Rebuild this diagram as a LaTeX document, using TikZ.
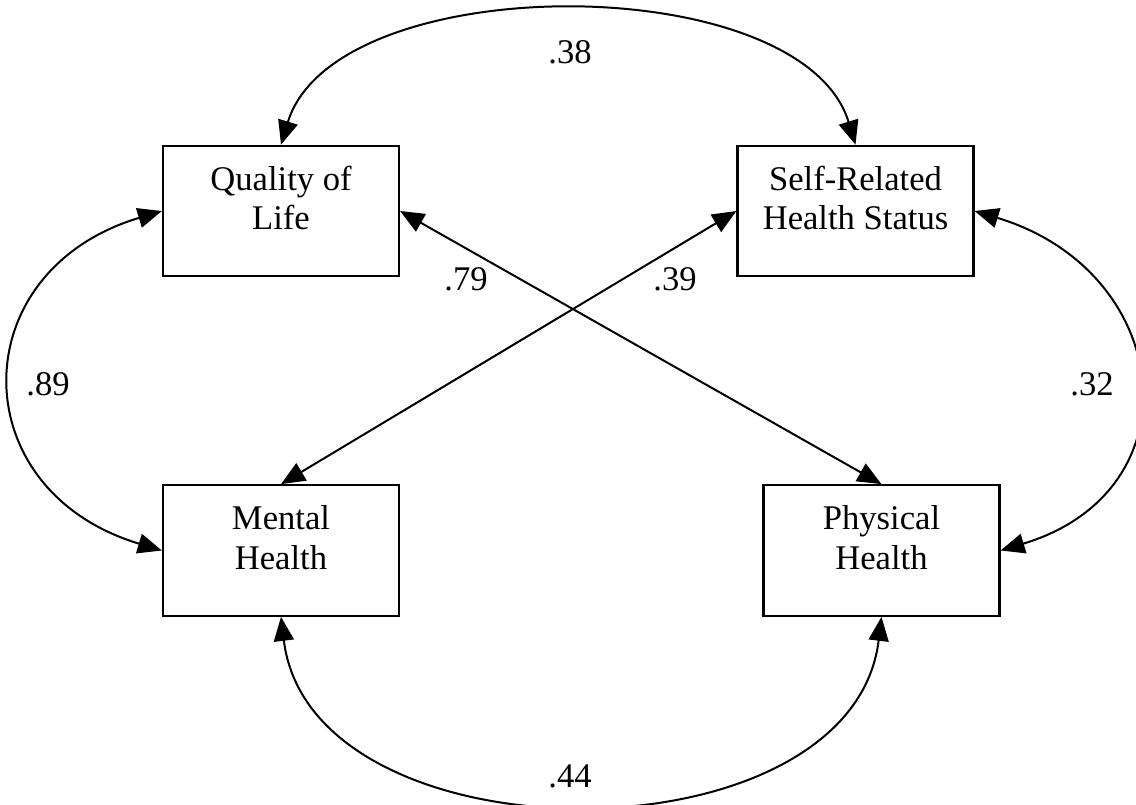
\documentclass[tikz,border=0pt]{standalone}
\usepackage{fontspec}
\setmainfont{Liberation Serif}
\usetikzlibrary{arrows.meta}
\begin{document}
\begin{tikzpicture}[x=1pt,y=-1pt,
  box/.style={draw, line width=2.2pt, inner sep=0pt, minimum width=236pt,
    text height=44.5pt, text depth=86pt, font=\fontsize{34.6}{39.5}\selectfont},
  lbl/.style={anchor=base, inner sep=0pt, font=\fontsize{34.6}{39.5}\selectfont},
  link/.style={line width=2pt,
    {Triangle[length=24pt,width=20pt]}-{Triangle[length=24pt,width=20pt]}}]
\fill[white] (0,0) rectangle (1136,804);
\useasboundingbox (0,0) rectangle (1136,804);

\node[box] (q) at (281,211) {\begin{tabular}[t]{@{}c@{}}Quality of\\Life\end{tabular}};
\node[box] (s) at (855.5,211) {\begin{tabular}[t]{@{}c@{}}Self-Related\\Health Status\end{tabular}};
\node[box] (m) at (281,550.5) {\begin{tabular}[t]{@{}c@{}}Mental\\Health\end{tabular}};
\node[box] (p) at (881.5,550.5) {\begin{tabular}[t]{@{}c@{}}Physical\\Health\end{tabular}};

\draw[link] (q.north) .. controls +(54,-177) and +(-54,-177) .. (s.north);
\draw[link] (q.west) .. controls +(-200,60) and +(-200,-60) .. (m.west);
\draw[link] (s.east) .. controls +(199,60) and +(199,-60) .. (p.east);
\draw[link] (m.south) .. controls +(30,248) and +(-30,248) .. (p.south);
\draw[link] (q.east) -- (p.north);
\draw[link] (m.north) -- (s.west);

\node[lbl] (l38) at (570,63) {.38};
\node[lbl] (l79) at (466,290) {.79};
\node[lbl] (l39) at (675,290) {.39};
\node[lbl] (l89) at (48,395) {.89};
\node[lbl] (l32) at (1092,395) {.32};
\node[lbl] (l44) at (570,787) {.44};
\end{tikzpicture}
\end{document}
